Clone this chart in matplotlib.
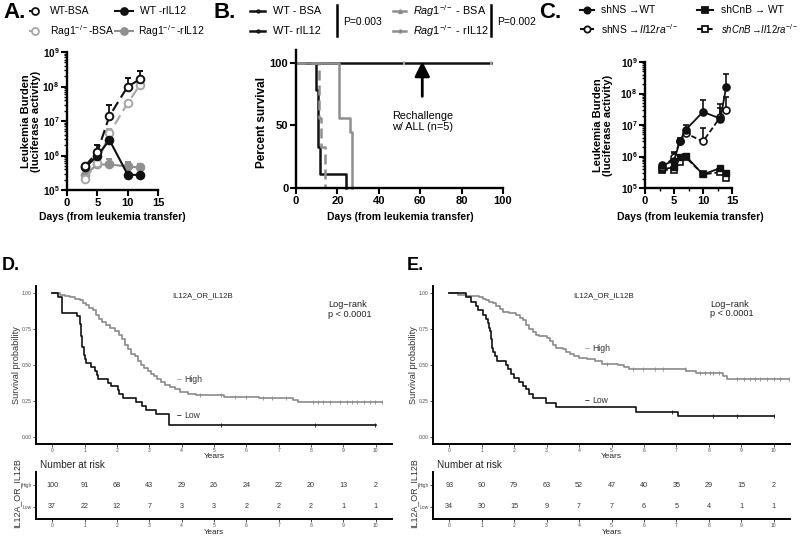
import numpy as np
import matplotlib
matplotlib.use('Agg')
import matplotlib.pyplot as plt
from matplotlib.lines import Line2D
from matplotlib.ticker import LogLocator, NullFormatter, FixedLocator

plt.rcParams['font.family'] = ['Liberation Sans', 'DejaVu Sans']
plt.rcParams['mathtext.fontset'] = 'custom'
plt.rcParams['mathtext.rm'] = 'Liberation Sans'
plt.rcParams['mathtext.it'] = 'Liberation Sans:italic'
plt.rcParams['mathtext.bf'] = 'Liberation Sans:bold'

# ---------------- DATA ----------------
# Panel A: leukemia burden (luciferase), mean and top of error bar
a_days = [3, 5, 7, 10, 12]
a_wt_bsa = [5.0e5, 1.26e6, 1.4e7, 1.0e8, 1.6e8]
a_wt_bsa_top = [5.5e5, 2.0e6, 3.0e7, 1.8e8, 2.8e8]
a_wt_il12 = [4.5e5, 9.8e5, 2.8e6, 2.8e5, 2.7e5]
a_wt_il12_top = [5.0e5, 1.1e6, 3.8e6, 3.0e5, 2.9e5]
a_rag_bsa = [2.1e5, 6.2e5, 4.4e6, 3.3e7, 1.1e8]
a_rag_bsa_top = [2.5e5, 7.0e5, 6.0e6, 3.8e7, 1.2e8]
a_rag_il12 = [2.8e5, 5.5e5, 5.5e5, 4.8e5, 4.5e5]
a_rag_il12_top = [3.8e5, 7.8e5, 8.0e5, 6.5e5, 5.5e5]

# Panel B: percent survival (step curves)
b_wt_bsa_t = [0, 9.6, 10.8, 11.6, 24]
b_wt_bsa_s = [100, 78, 33, 11, 0]
b_wt_il12_t = [0, 94]
b_wt_il12_s = [100, 100]
b_wt_il12_cens = [52, 94]
b_rag_bsa_t = [0, 11.3, 12.2, 14]
b_rag_bsa_s = [100, 56, 33, 0]
b_rag_il12_t = [0, 21, 26, 27]
b_rag_il12_s = [100, 56, 45, 0]

# Panel C
c_days = [3, 5, 6, 7, 10, 13, 14]
c_ns_wt = [5.2e5, 7.4e5, 3.0e6, 7.0e6, 2.6e7, 1.6e7, 1.6e8]
c_ns_wt_top = [5.6e5, 1.4e6, 4.0e6, 1.0e7, 6.0e7, 4.5e7, 4.2e8]
c_ns_ko = [4.5e5, 9.5e5, 3.0e6, 5.5e6, 3.0e6, 1.8e7, 3.0e7]
c_ns_ko_top = [5.0e5, 1.3e6, 3.5e6, 7.5e6, 8.0e6, 3.5e7, 8.0e7]
c_cnb_wt = [4.0e5, 4.5e5, 1.0e6, 1.05e6, 2.7e5, 4.3e5, 3.0e5]
c_cnb_ko = [3.8e5, 3.7e5, 6.5e5, 9.5e5, 2.7e5, 3.2e5, 2.1e5]

# Panel D: Kaplan-Meier (years, survival)
d_low_t = [0, 0.18, 0.31, 0.76, 0.85, 0.89, 0.93, 0.97, 1.01, 1.05, 1.21, 1.31, 1.38, 1.43,
           1.72, 1.83, 2.03, 2.08, 2.19, 2.6, 2.76, 2.91, 3.22, 3.61]
d_low_s = [1.0, 0.973, 0.865, 0.838, 0.784, 0.703, 0.622, 0.568, 0.541, 0.514, 0.486, 0.459,
           0.432, 0.405, 0.378, 0.351, 0.324, 0.297, 0.270, 0.243, 0.216, 0.189, 0.162, 0.081]
d_low_end = 10.0
d_low_cens = [5.23, 8.12, 9.98]
d_high_t = [0, 0.23, 0.4, 0.55, 0.7, 0.85, 0.95, 1.05, 1.15, 1.25, 1.35, 1.45, 1.55, 1.65, 1.8,
            1.95, 2.05, 2.15, 2.25, 2.35, 2.45, 2.55, 2.65, 2.75, 2.85, 2.95, 3.05, 3.15, 3.25,
            3.35, 3.5, 3.65, 3.8, 3.95, 4.2, 4.45, 5.3, 6.4, 7.45, 7.6]
d_high_s = [1.0, 0.99, 0.98, 0.97, 0.96, 0.95, 0.93, 0.92, 0.90, 0.88, 0.85, 0.82, 0.80, 0.78,
            0.76, 0.74, 0.71, 0.68, 0.64, 0.61, 0.58, 0.56, 0.53, 0.50, 0.48, 0.46, 0.44, 0.42,
            0.40, 0.38, 0.36, 0.345, 0.33, 0.315, 0.30, 0.29, 0.28, 0.27, 0.255, 0.245]
d_high_end = 10.19
d_high_cens = [4.56, 5.23, 5.64, 6.0, 6.52, 6.78, 7.24, 8.07, 8.22, 8.38, 8.59, 8.9, 9.1, 9.26,
               9.41, 9.62, 9.82, 9.98, 10.19]

# Panel E
e_low_t = [0, 0.52, 0.67, 0.82, 0.88, 1.03, 1.13, 1.19, 1.22, 1.25, 1.29, 1.32, 1.36, 1.41, 1.46,
           1.75, 1.8, 1.9, 2.0, 2.16, 2.27, 2.37, 2.47, 2.58, 2.99, 3.3, 5.77, 7.06]
e_low_s = [1.0, 0.97, 0.94, 0.91, 0.88, 0.85, 0.82, 0.79, 0.76, 0.74, 0.68, 0.62, 0.59, 0.56,
           0.53, 0.50, 0.47, 0.44, 0.41, 0.385, 0.355, 0.33, 0.30, 0.27, 0.235, 0.206, 0.176, 0.142]
e_low_end = 10.0
e_low_cens = [6.86, 8.14, 8.87, 10.0]
e_high_t = [0, 0.26, 0.52, 0.93, 1.03, 1.13, 1.24, 1.34, 1.45, 1.55, 1.65, 1.85, 2.06, 2.17, 2.27,
            2.37, 2.47, 2.58, 2.68, 2.78, 3.0, 3.09, 3.2, 3.3, 3.5, 3.6, 3.71, 3.85, 4.0, 4.23,
            4.5, 4.7, 5.2, 5.4, 5.55, 7.3, 7.6, 8.45, 8.55]
e_high_s = [1.0, 0.99, 0.98, 0.97, 0.96, 0.95, 0.94, 0.93, 0.91, 0.89, 0.87, 0.86, 0.85, 0.83,
            0.81, 0.78, 0.75, 0.73, 0.71, 0.70, 0.69, 0.67, 0.64, 0.62, 0.61, 0.59, 0.575, 0.56,
            0.55, 0.54, 0.525, 0.51, 0.50, 0.485, 0.47, 0.455, 0.445, 0.42, 0.40]
e_high_end = 10.46
e_high_cens = [4.85, 5.67, 5.98, 6.34, 6.6, 7.27, 7.73, 7.89, 8.04, 8.14, 8.3, 8.87, 9.07, 9.28,
               9.43, 9.59, 9.79, 10.0, 10.2, 10.46]

risk_years = list(range(11))
d_risk_high = [100, 91, 68, 43, 29, 26, 24, 22, 20, 13, 2]
d_risk_low = [37, 22, 12, 7, 3, 3, 2, 2, 2, 1, 1]
e_risk_high = [93, 90, 79, 63, 52, 47, 40, 35, 29, 15, 2]
e_risk_low = [34, 30, 15, 9, 7, 7, 6, 5, 4, 1, 1]

# ---------------- FIGURE ----------------
W, H = 800, 536
fig = plt.figure(figsize=(8, 5.36), dpi=100)

def px_axes(l, t, r, b):
    return fig.add_axes([l / W, 1 - b / H, (r - l) / W, (b - t) / H])

def fx(x):
    return x / W

def fy(y):
    return 1 - y / H

BLACK = '#111111'
GRAY_O = '#a6a6a6'
GRAY_F = '#8f8f8f'
GRAY_KM = '#8a8a8a'

def prism(ax):
    for s in ['top', 'right']:
        ax.spines[s].set_visible(False)
    for s in ['left', 'bottom']:
        ax.spines[s].set_linewidth(1.7)
        ax.spines[s].set_color('black')
    ax.tick_params(which='major', direction='out', length=4, width=1.5, pad=1.5)
    ax.tick_params(which='minor', direction='out', length=2.2, width=1.0)

def leg(x0, x1, y, color, ls='-', marker=None, mfc=None, ms=5, lw=1.5):
    fig.add_artist(Line2D([fx(x0), fx(x1)], [fy(y), fy(y)], transform=fig.transFigure,
                          color=color, ls=ls, lw=lw))
    if marker:
        fig.add_artist(Line2D([fx((x0 + x1) / 2)], [fy(y)], transform=fig.transFigure,
                              marker=marker, ms=ms, mfc=mfc if mfc else color, mec=color,
                              mew=1.3, ls='none'))

def upper(vals, tops):
    v = np.array(vals)
    return [np.zeros(len(v)), np.array(tops) - v]

def log_axis_setup(ax):
    ax.set_yscale('log')
    ax.set_ylim(1e5, 1e9)
    ax.set_yticks([1e5, 1e6, 1e7, 1e8, 1e9])
    ax.set_yticklabels([r'$\mathbf{10^{%d}}$' % k for k in range(5, 10)], fontsize=7.2)
    ax.yaxis.set_minor_locator(LogLocator(base=10, subs=np.arange(2, 10)))
    ax.yaxis.set_minor_formatter(NullFormatter())
    ax.set_xlim(0, 15)
    ax.set_xticks([0, 5, 10, 15])
    ax.set_xticklabels(['0', '5', '10', '15'], fontweight='bold', fontsize=8)

# ---------------- Panel A ----------------
axA = px_axes(67, 52, 158, 190)
prism(axA)
log_axis_setup(axA)
eb = dict(capsize=2.5, elinewidth=1.3, capthick=1.3, lw=1.5, ms=5.5, mew=1.4, clip_on=False)
axA.errorbar(a_days, a_rag_il12, yerr=upper(a_rag_il12, a_rag_il12_top), color=GRAY_F,
             marker='o', mfc=GRAY_F, ls='-', **eb)
axA.errorbar(a_days, a_rag_bsa, yerr=upper(a_rag_bsa, a_rag_bsa_top), color=GRAY_O,
             marker='o', mfc='white', ls=(0, (5, 2.5)), **eb)
axA.errorbar(a_days, a_wt_il12, yerr=upper(a_wt_il12, a_wt_il12_top), color=BLACK,
             marker='o', mfc=BLACK, ls='-', **eb)
axA.errorbar(a_days, a_wt_bsa, yerr=upper(a_wt_bsa, a_wt_bsa_top), color=BLACK,
             marker='o', mfc='white', ls=(0, (5, 2.5)), **eb)

fig.text(fx(15), fy(13), 'A.', fontsize=16, fontweight='bold', ha='center', va='center')
leg(29, 41, 11, BLACK, ls=(0, (4, 2)), marker='o', mfc='white', ms=5)
fig.text(fx(50), fy(11), 'WT-BSA', fontsize=7.5, va='center')
leg(115, 133, 11, BLACK, marker='o', ms=5)
fig.text(fx(140), fy(11), 'WT -rIL12', fontsize=7.5, va='center')
leg(29, 41, 31, GRAY_O, ls=(0, (4, 2)), marker='o', mfc='white', ms=5)
fig.text(fx(50), fy(31), r'Rag1$^{-/-}$-BSA', fontsize=7.5, va='center')
leg(115, 133, 31, GRAY_F, marker='o', ms=5)
fig.text(fx(138), fy(31), r'Rag1$^{-/-}$-rIL12', fontsize=7.5, va='center')
fig.text(fx(31), fy(121), 'Leukemia Burden\n(luciferase activity)', rotation=90,
         fontsize=8, fontweight='bold', ha='center', va='center', linespacing=1.0)
fig.text(fx(112), fy(217), 'Days (from leukemia transfer)', fontsize=7.5,
         fontweight='bold', ha='center', va='center')

# ---------------- Panel B ----------------
axB = px_axes(296, 50, 503, 188)
prism(axB)
axB.set_xlim(0, 100)
axB.set_ylim(0, 110)
axB.set_xticks([0, 20, 40, 60, 80, 100])
axB.set_xticklabels(['0', '20', '40', '60', '80', '100'], fontweight='bold', fontsize=8)
axB.set_yticks([0, 50, 100])
axB.set_yticklabels(['0', '50', '100'], fontweight='bold', fontsize=8)
axB.step(b_wt_il12_t, b_wt_il12_s, where='post', color=BLACK, lw=1.8, clip_on=False)
axB.plot(b_wt_il12_cens, [b_wt_il12_s[0]] * len(b_wt_il12_cens), ls='none', marker='|',
         ms=3, mew=1.2, color='#bbbbbb')
axB.step(b_wt_bsa_t, b_wt_bsa_s, where='post', color=BLACK, lw=1.8, clip_on=False)
axB.step(b_rag_bsa_t, b_rag_bsa_s, where='post', color=GRAY_F, lw=1.8, ls=(0, (4, 2)),
         clip_on=False)
axB.step(b_rag_il12_t, b_rag_il12_s, where='post', color=GRAY_F, lw=1.8, clip_on=False)
axB.annotate('', xy=(61, 101), xytext=(61, 73),
             arrowprops=dict(arrowstyle='-|>,head_length=0.9,head_width=0.45', lw=2,
                             color='black', shrinkA=0, shrinkB=0))
axB.text(61, 53, 'Rechallenge\nw/ ALL (n=5)', ha='center', va='center', fontsize=7.8,
         linespacing=1.2)

fig.text(fx(225), fy(13), 'B.', fontsize=16, fontweight='bold', ha='center', va='center')
leg(250, 265, 11, BLACK, lw=1.8, marker='o', mfc='#aaaaaa', ms=1.8)
fig.text(fx(273), fy(11), 'WT - BSA', fontsize=7.8, va='center')
leg(250, 265, 31, BLACK, lw=1.8, marker='o', mfc='#aaaaaa', ms=1.8)
fig.text(fx(273), fy(31), 'WT- rIL12', fontsize=7.8, va='center')
fig.add_artist(Line2D([fx(337), fx(337)], [fy(5), fy(36)], transform=fig.transFigure,
                      color='black', lw=1.8))
fig.text(fx(343), fy(22), 'P=0.003', fontsize=7.5, va='center')
leg(393, 406, 11, GRAY_F, lw=1.8, marker='^', mfc='black', ms=2.5)
fig.text(fx(413), fy(11), r'$\mathit{Rag1}^{-/-}$ - BSA', fontsize=7.8, va='center')
leg(393, 406, 31, GRAY_F, lw=1.8, marker='o', mfc='black', ms=1.8)
fig.text(fx(413), fy(31), r'$\mathit{Rag1}^{-/-}$ - rIL12', fontsize=7.8, va='center')
fig.add_artist(Line2D([fx(491), fx(491)], [fy(5), fy(36)], transform=fig.transFigure,
                      color='black', lw=1.8))
fig.text(fx(497), fy(22), 'P=0.002', fontsize=7.5, va='center')
fig.text(fx(262), fy(122), 'Percent survival', rotation=90, fontsize=8.5,
         fontweight='bold', ha='center', va='center')
fig.text(fx(400), fy(217), 'Days (from leukemia transfer)', fontsize=7.5,
         fontweight='bold', ha='center', va='center')

# ---------------- Panel C ----------------
axC = px_axes(645, 62, 732, 188)
prism(axC)
log_axis_setup(axC)
axC.xaxis.set_minor_locator(FixedLocator([2.5, 7.5, 12.5]))
ebc = dict(capsize=2.5, elinewidth=1.2, capthick=1.2, lw=1.3, ms=5, mew=1.2, clip_on=False)
axC.plot(c_days, c_cnb_ko, color=BLACK, marker='s', mfc='white', ls=(0, (3, 1.5)),
         lw=1.3, ms=5, mew=1.2, clip_on=False)
axC.plot(c_days, c_cnb_wt, color=BLACK, marker='s', mfc=BLACK, ls='-', lw=1.3, ms=5,
         clip_on=False)
axC.errorbar(c_days, c_ns_ko, yerr=upper(c_ns_ko, c_ns_ko_top), color=BLACK, marker='o',
             mfc='white', ls=(0, (3, 1.5)), **ebc)
axC.errorbar(c_days, c_ns_wt, yerr=upper(c_ns_wt, c_ns_wt_top), color=BLACK, marker='o',
             mfc=BLACK, ls='-', **ebc)

fig.text(fx(550), fy(13), 'C.', fontsize=16, fontweight='bold', ha='center', va='center')
leg(580, 594, 10, BLACK, marker='o', ms=4.5)
fig.text(fx(601), fy(10), 'shNS →WT', fontsize=7.4, va='center')
leg(697, 713, 10, BLACK, marker='s', ms=4.5)
fig.text(fx(721), fy(10), 'shCnB → WT', fontsize=7.4, va='center')
leg(580, 594, 29, BLACK, ls=(0, (3, 1.5)), marker='o', mfc='white', ms=4.5)
fig.text(fx(601), fy(29), r'shNS →$\mathit{Il12ra}^{-/-}$', fontsize=7.4, va='center')
leg(697, 713, 29, BLACK, ls=(0, (3, 1.5)), marker='s', mfc='white', ms=4.5)
fig.text(fx(721), fy(29), r'$\mathit{shCnB}$$\,$→$\mathit{Il12ra}^{-/-}$', fontsize=6.9,
         va='center')
fig.text(fx(603), fy(125), 'Leukemia Burden\n(luciferase activity)', rotation=90,
         fontsize=8, fontweight='bold', ha='center', va='center', linespacing=1.0)
fig.text(fx(690), fy(217), 'Days (from leukemia transfer)', fontsize=7.5,
         fontweight='bold', ha='center', va='center')

# ---------------- Panels D / E ----------------
def ggstyle(ax):
    for s in ['top', 'right']:
        ax.spines[s].set_visible(False)
    for s in ['left', 'bottom']:
        ax.spines[s].set_linewidth(1.4)
        ax.spines[s].set_color('black')
    ax.tick_params(length=2, width=0.6, color='#333333', labelsize=3.6,
                   labelcolor='#4d4d4d', pad=1.0)

def km_step(ax, t, s, end, cens, color):
    tt = list(t) + [end]
    ss = list(s) + [s[-1]]
    ax.step(tt, ss, where='post', color=color, lw=1.2)
    ta = np.array(t)
    sa = np.array(s)
    cy = sa[np.searchsorted(ta, np.array(cens), side='right') - 1]
    ax.plot(cens, cy, ls='none', marker='|', ms=2.6, mew=0.6, color=color)

def km_panel(l, r, letter, letter_x, ht, hs, hend, hc, lt, ls_, lend, lc,
             lab_x, hy, ly, title_x, lr_x, lr_y, risk_h, risk_l):
    ax = px_axes(l, 286, r, 444)
    ggstyle(ax)
    ax.set_xlim(-0.5, 10.5)
    ax.set_ylim(-0.05, 1.05)
    ax.set_xticks(risk_years)
    ax.set_xticklabels([str(y) for y in risk_years])
    ax.set_yticks([0, 0.25, 0.5, 0.75, 1.0])
    ax.set_yticklabels(['0.00', '0.25', '0.50', '0.75', '1.00'])
    km_step(ax, ht, hs, hend, hc, GRAY_KM)
    km_step(ax, lt, ls_, lend, lc, BLACK)
    ax.text(lab_x, hy, '–', color=GRAY_KM, fontsize=6, ha='center', va='center',
            fontweight='bold')
    ax.text(lab_x + 0.14, hy, 'High', color='#333333', fontsize=6.2, ha='left', va='center')
    ax.text(lab_x, ly, '–', color=BLACK, fontsize=6, ha='center', va='center',
            fontweight='bold')
    ax.text(lab_x + 0.14, ly, 'Low', color='#333333', fontsize=6.2, ha='left', va='center')
    ax.text(title_x, 0.985, 'IL12A_OR_IL12B', fontsize=5.6, ha='center', va='center',
            color='#222222')
    ax.text(lr_x, lr_y, 'Log\u2212rank\np < 0.0001', fontsize=6.6, ha='left', va='top',
            color='#222222', linespacing=1.05)
    fig.text(fx(l - 19), fy(365), 'Survival probability', rotation=90, fontsize=6.6,
             ha='center', va='center', color='#333333')
    fig.text(fx((l + r) / 2), fy(457), 'Years', fontsize=6.0, ha='center', va='center',
             color='#222222')
    # risk table
    rt = px_axes(l, 472, r, 519)
    ggstyle(rt)
    rt.set_xlim(-0.5, 10.5)
    rt.set_ylim(0.45, 2.6)
    rt.set_xticks(risk_years)
    rt.set_xticklabels([str(y) for y in risk_years])
    rt.set_yticks([1, 2])
    rt.set_yticklabels(['Low', 'High'])
    for i, yv in enumerate(risk_years):
        rt.text(yv, 2, str(risk_h[i]), ha='center', va='center', fontsize=5.2,
                color='#333333')
        rt.text(yv, 1, str(risk_l[i]), ha='center', va='center', fontsize=5.2,
                color='#333333')
    fig.text(fx(l + 4), fy(465), 'Number at risk', fontsize=7.2, ha='left', va='center',
             color='#222222')
    fig.text(fx(l - 19), fy(493), 'IL12A_OR_IL12B', rotation=90, fontsize=6.4,
             ha='center', va='center', color='#333333')
    fig.text(fx((l + r) / 2), fy(532.5), 'Years', fontsize=5.8, ha='center', va='center',
             color='#222222')
    fig.text(fx(letter_x), fy(266), letter, fontsize=13, fontweight='bold', ha='left',
             va='center')

km_panel(36, 392, 'D.', 2, d_high_t, d_high_s, d_high_end, d_high_cens,
         d_low_t, d_low_s, d_low_end, d_low_cens,
         3.93, 0.40, 0.145, 4.65, 8.52, 0.95, d_risk_high, d_risk_low)
km_panel(433, 790, 'E.', 407, e_high_t, e_high_s, e_high_end, e_high_cens,
         e_low_t, e_low_s, e_low_end, e_low_cens,
         4.26, 0.615, 0.253, 4.76, 8.05, 0.955, e_risk_high, e_risk_low)

fig.savefig('out.png', dpi=100)
